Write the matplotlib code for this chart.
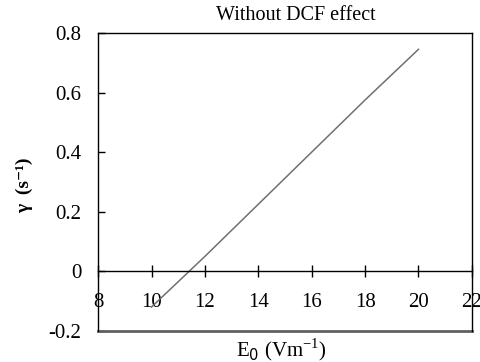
import numpy as np
from matplotlib import pyplot as plt

plt.rcParams['font.family'] = ['Liberation Serif', 'DejaVu Serif']

e0 = [10, 12, 14, 16, 18, 20]
gamma = [-0.12, 0.05, 0.225, 0.40, 0.575, 0.745]
xticks = [8, 10, 12, 14, 16, 18, 20, 22]
yticks = [-0.2, 0, 0.2, 0.4, 0.6, 0.8]
ylabels = ['-0.2', '0', '0.2', '0.4', '0.6', '0.8']

fig = plt.figure(figsize=(4.81, 3.62), dpi=100)
ax = fig.add_axes([0.204, 0.086, 0.777, 0.823])

ax.plot(e0, gamma, color='#707070', lw=1.1)

ax.set_xlim(8, 22)
ax.set_ylim(-0.2, 0.8)
ax.set_xticks(xticks)
ax.set_xticklabels([str(v) for v in xticks])
ax.set_yticks(yticks)
ax.set_yticklabels(ylabels)

# x axis crosses at zero, box closed below
ax.spines['bottom'].set_position(('data', 0))
for s in ['left', 'top', 'right', 'bottom']:
    ax.spines[s].set_linewidth(1.0)
    ax.spines[s].set_color('black')
ax.plot([8, 22], [-0.2, -0.2], color='#606060', lw=2.0, clip_on=False)

ax.tick_params(axis='x', direction='inout', length=9, width=1, pad=11, labelsize=15)
ax.tick_params(axis='y', direction='in', length=5, width=1, pad=12, labelsize=15)

ax.set_title('Without DCF effect', fontsize=14.5, pad=9, x=0.53)
ax.set_xlabel(r'E$_0$ (Vm$^{\mathregular{-1}}$)', fontsize=15)
ax.xaxis.set_label_coords(0.49, -0.02)
ax.set_ylabel('γ  (s⁻¹)', fontsize=14, fontweight='bold')
ax.yaxis.set_label_coords(-0.175, 0.49)

plt.savefig('out.png', dpi=100)
